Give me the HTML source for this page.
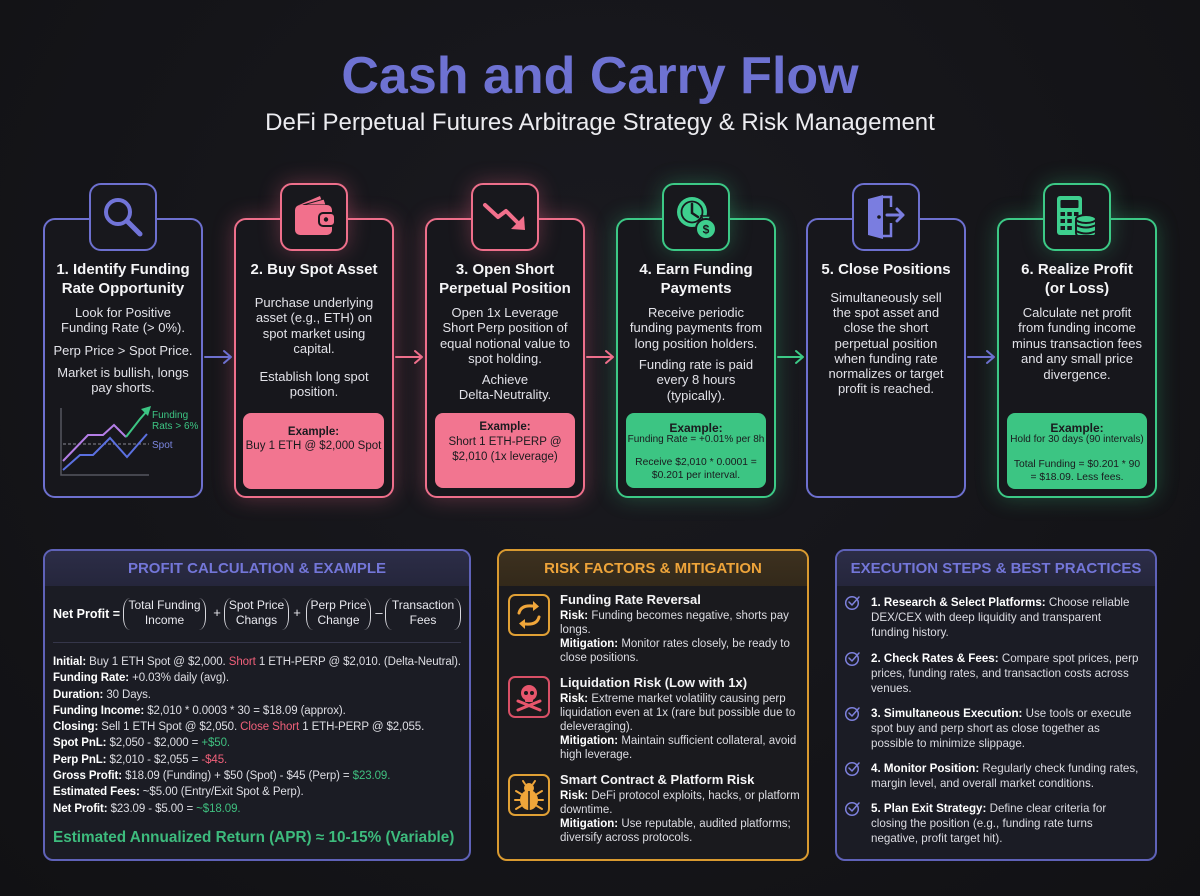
<!DOCTYPE html>
<html><head><meta charset="utf-8">
<style>
*{margin:0;padding:0;box-sizing:border-box}
html,body{width:1200px;height:896px;overflow:hidden}
body{font-family:"Liberation Sans",Arial,sans-serif;color:#e4e4ea;position:relative;
background:radial-gradient(ellipse at 50% 35%,#1a1a20 0%,#151519 55%,#111114 100%)}
.a{position:absolute;white-space:nowrap}
.c{text-align:center}
.card{position:absolute;top:218px;width:160px;height:280px;border:2px solid;border-radius:12px;background:#17171c}
.ib{position:absolute;top:183px;width:68px;height:68px;border:2px solid;border-radius:12px;background:#18181d}
.ib svg{position:absolute;left:-2px;top:-2px}
.pu{border-color:#6d70cf}
.pk{border-color:#ee6f8b;box-shadow:0 0 22px rgba(238,100,135,.33)}
.gr{border-color:#3cc986;box-shadow:0 0 22px rgba(60,201,134,.30)}
.tt{font-weight:bold;font-size:15px;line-height:19px;color:#f5f5f7;width:160px;text-align:center}
.bd{font-size:13px;line-height:15.4px;color:#e2e2e8;width:160px;text-align:center}
.ex{position:absolute;border-radius:8px;color:#1a1a1e;text-align:center}
.ex .a{left:0;right:0;text-align:center}
.expk{background:#f27590}
.exgr{background:#3cc583}
.pn{position:absolute;top:549px;height:312px;border:2px solid;border-radius:10px;overflow:hidden}
.hd{position:absolute;left:0;top:0;right:0;height:35px;line-height:35px;text-align:center;font-weight:bold;font-size:15px}
.grp{position:absolute;top:598px;height:32px}
.grp .tx{position:absolute;left:-12px;right:-12px;top:0;text-align:center;font-size:12px;line-height:15px;color:#e8e8ee;white-space:nowrap}
.pl{position:absolute;left:0;top:0;width:7px;height:32px;border-left:1.5px solid #d8d8de;border-radius:9px 0 0 9px/16px 0 0 16px}
.pr{position:absolute;right:0;top:0;width:7px;height:32px;border-right:1.5px solid #d8d8de;border-radius:0 9px 9px 0/0 16px 16px 0}
.ln{font-size:11.5px;line-height:16.3px;letter-spacing:-0.1px;color:#dedee4}
.ln b{color:#fff}
.r{color:#f0607a}
.g{color:#3fbf7f}
.rk{font-size:11.5px;line-height:14px;color:#dcdce2}
.rk b{color:#fff}
.rt{font-weight:bold;font-size:13px;line-height:16px;color:#f4f4f6}
.rb{position:absolute;left:508px;width:42px;height:42px;border:2px solid;border-radius:7px;background:#1b1a1c}
.rb svg{position:absolute;left:-2px;top:-2px}
.xs{font-size:11.6px;line-height:15px;color:#dcdce2}
.xs b{color:#fff}
</style></head>
<body>

<!-- Title -->
<div class="a c" style="left:0;width:1200px;top:46px;font-size:52px;line-height:60px;font-weight:bold;color:#6e72d2">Cash and Carry Flow</div>
<div class="a c" style="left:0;width:1200px;top:109px;font-size:24px;line-height:28px;color:#ececf0">DeFi Perpetual Futures Arbitrage Strategy &amp; Risk Management</div>

<!-- Cards -->
<div class="card pu" style="left:43px"></div>
<div class="card pk" style="left:234px"></div>
<div class="card pk" style="left:425px"></div>
<div class="card gr" style="left:616px"></div>
<div class="card pu" style="left:806px"></div>
<div class="card gr" style="left:997px"></div>

<!-- Icon boxes -->
<div class="ib pu" style="left:89px"><svg width="68" height="68"><circle cx="29" cy="29" r="12" fill="none" stroke="#7174d8" stroke-width="4"/><line x1="38" y1="38" x2="51" y2="51" stroke="#7174d8" stroke-width="5" stroke-linecap="round"/></svg></div>
<div class="ib pk" style="left:280px"><svg width="68" height="68"><path d="M19 22 L40 13 L43 21 Z" fill="#f2708c"/><path d="M23 22 L44 16 L46 22 Z" fill="#f2708c" stroke="#18181d" stroke-width="1"/><rect x="15" y="22" width="37" height="30" rx="5" fill="#f2708c"/><rect x="39" y="30" width="16" height="13" rx="4" fill="#f2708c" stroke="#18181d" stroke-width="2"/><circle cx="46" cy="36.5" r="2.2" fill="#18181d"/></svg></div>
<div class="ib pk" style="left:471px"><svg width="68" height="68"><path d="M14 22 L27 34 L35 28 L47 40" fill="none" stroke="#f2708c" stroke-width="4" stroke-linejoin="round" stroke-linecap="round"/><path d="M54 47 L40 46 L53 33 Z" fill="#f2708c"/></svg></div>
<div class="ib gr" style="left:662px"><svg width="68" height="68"><circle cx="30" cy="29" r="15" fill="#3ecf8e"/><circle cx="30" cy="29" r="10.5" fill="none" stroke="#18181d" stroke-width="1.8"/><path d="M30 21 L30 30 L36 34" fill="none" stroke="#18181d" stroke-width="2.5" stroke-linecap="round"/><path d="M39 33 L49 33 L46 38 L42 38 Z" fill="#3ecf8e" stroke="#18181d" stroke-width="1.5"/><circle cx="44" cy="46" r="10" fill="#3ecf8e" stroke="#18181d" stroke-width="2"/><text x="44" y="50.5" text-anchor="middle" font-family="Liberation Sans,sans-serif" font-weight="bold" font-size="12" fill="#18181d">$</text></svg></div>
<div class="ib pu" style="left:852px"><svg width="68" height="68"><path d="M31 14 L39 14 L39 24 M39 40 L39 53 L31 53" fill="none" stroke="#7a7de0" stroke-width="2.5"/><path d="M16 16 L31 12 L31 56 L16 52 Z" fill="#7a7de0"/><circle cx="27" cy="34" r="1.8" fill="#18181d"/><path d="M35 32 L51 32 M45 26 L51 32 L45 38" fill="none" stroke="#7a7de0" stroke-width="3" stroke-linecap="round" stroke-linejoin="round"/></svg></div>
<div class="ib gr" style="left:1043px"><svg width="68" height="68"><rect x="14" y="13" width="25" height="39" rx="3" fill="#3ecf8e"/><rect x="17.5" y="17" width="18" height="8" rx="1" fill="#18181d"/><g fill="#18181d"><rect x="17.5" y="29" width="4.5" height="4"/><rect x="24.3" y="29" width="4.5" height="4"/><rect x="31" y="29" width="4.5" height="4"/><rect x="17.5" y="36" width="4.5" height="4"/><rect x="24.3" y="36" width="4.5" height="4"/><rect x="17.5" y="43" width="4.5" height="4"/><rect x="24.3" y="43" width="4.5" height="4"/></g><rect x="33" y="35" width="20" height="18" rx="3" fill="#3ecf8e" stroke="#18181d" stroke-width="2"/><ellipse cx="43" cy="36" rx="10" ry="4" fill="#3ecf8e" stroke="#18181d" stroke-width="2"/><path d="M33 42 Q43 47 53 42 M33 48 Q43 53 53 48" fill="none" stroke="#18181d" stroke-width="2"/></svg></div>

<!-- Card texts -->
<div class="a tt" style="left:43px;top:260px">1. Identify Funding<br>Rate Opportunity</div>
<div class="a bd" style="left:43px;top:305px">Look for Positive<br>Funding Rate (&gt; 0%).</div>
<div class="a bd" style="left:43px;top:343px">Perp Price &gt; Spot Price.</div>
<div class="a bd" style="left:43px;top:365px">Market is bullish, longs<br>pay shorts.</div>

<div class="a tt" style="left:234px;top:260px">2. Buy Spot Asset</div>
<div class="a bd" style="left:234px;top:295px">Purchase underlying<br>asset (e.g., ETH) on<br>spot market using<br>capital.</div>
<div class="a bd" style="left:234px;top:369px">Establish long spot<br>position.</div>
<div class="ex expk" style="left:243px;top:413px;width:141px;height:76px"><div class="a" style="top:12px;font-size:11.5px;line-height:14px"><b>Example:</b><br>Buy 1 ETH @ $2,000 Spot</div></div>

<div class="a tt" style="left:425px;top:260px">3. Open Short<br>Perpetual Position</div>
<div class="a bd" style="left:425px;top:305px">Open 1x Leverage<br>Short Perp position of<br>equal notional value to<br>spot holding.</div>
<div class="a bd" style="left:425px;top:372px">Achieve<br>Delta-Neutrality.</div>
<div class="ex expk" style="left:435px;top:413px;width:140px;height:75px"><div class="a" style="top:7px;font-size:11.5px;line-height:15px"><b>Example:</b><br>Short 1 ETH-PERP @<br>$2,010 (1x leverage)</div></div>

<div class="a tt" style="left:616px;top:260px">4. Earn Funding<br>Payments</div>
<div class="a bd" style="left:616px;top:305px">Receive periodic<br>funding payments from<br>long position holders.</div>
<div class="a bd" style="left:616px;top:357px">Funding rate is paid<br>every 8 hours<br>(typically).</div>
<div class="ex exgr" style="left:626px;top:413px;width:140px;height:75px">
<div class="a" style="top:8px;font-size:12px;line-height:14px;font-weight:bold">Example:</div>
<div class="a" style="top:21px;font-size:10px;line-height:12px">Funding Rate = +0.01% per 8h</div>
<div class="a" style="top:43px;font-size:10.3px;line-height:13px">Receive $2,010 * 0.0001 =<br>$0.201 per interval.</div>
</div>

<div class="a tt" style="left:806px;top:260px">5. Close Positions</div>
<div class="a bd" style="left:806px;top:290px;line-height:15.2px">Simultaneously sell<br>the spot asset and<br>close the short<br>perpetual position<br>when funding rate<br>normalizes or target<br>profit is reached.</div>

<div class="a tt" style="left:997px;top:260px">6. Realize Profit<br>(or Loss)</div>
<div class="a bd" style="left:997px;top:305px">Calculate net profit<br>from funding income<br>minus transaction fees<br>and any small price<br>divergence.</div>
<div class="ex exgr" style="left:1007px;top:413px;width:140px;height:76px">
<div class="a" style="top:8px;font-size:12px;line-height:14px;font-weight:bold">Example:</div>
<div class="a" style="top:21px;font-size:10px;line-height:12px">Hold for 30 days (90 intervals)</div>
<div class="a" style="top:45px;font-size:10.3px;line-height:13px">Total Funding = $0.201 * 90<br>= $18.09. Less fees.</div>
</div>

<!-- Panels -->
<div class="pn" style="left:43px;width:428px;border-color:#5f62b8;background:#1b1c24"><div class="hd" style="background:linear-gradient(#2c2d47,#25263c);color:#7376d8">PROFIT CALCULATION &amp; EXAMPLE</div></div>
<div class="pn" style="left:497px;width:312px;border-color:#d99a30;background:#1a1a1e"><div class="hd" style="background:linear-gradient(#3d311f,#33291a);color:#eea43a">RISK FACTORS &amp; MITIGATION</div></div>
<div class="pn" style="left:835px;width:322px;border-color:#5f62b8;background:#1b1c25"><div class="hd" style="background:linear-gradient(#2c2d47,#25263c);color:#7376d8">EXECUTION STEPS &amp; BEST PRACTICES</div></div>

<!-- Panel 1 content -->
<div class="a" style="left:53px;top:606px;font-size:12.5px;line-height:16px;font-weight:bold;color:#fff">Net Profit =</div>
<div class="grp" style="left:123px;width:83px"><span class="pl"></span><span class="pr"></span><div class="tx">Total Funding<br>Income</div></div>
<div class="a" style="left:212px;top:605px;font-size:13px;line-height:16px;color:#e8e8ee;width:10px;text-align:center">+</div>
<div class="grp" style="left:224px;width:65px"><span class="pl"></span><span class="pr"></span><div class="tx">Spot Price<br>Changs</div></div>
<div class="a" style="left:292px;top:605px;font-size:13px;line-height:16px;color:#e8e8ee;width:10px;text-align:center">+</div>
<div class="grp" style="left:306px;width:65px"><span class="pl"></span><span class="pr"></span><div class="tx">Perp Price<br>Change</div></div>
<div class="a" style="left:374px;top:605px;font-size:13px;line-height:16px;color:#e8e8ee;width:10px;text-align:center">–</div>
<div class="grp" style="left:385px;width:76px"><span class="pl"></span><span class="pr"></span><div class="tx">Transaction<br>Fees</div></div>
<div class="a" style="left:53px;top:642px;width:408px;height:1px;background:#35364a"></div>
<div class="a ln" style="left:53px;top:654px"><b>Initial:</b> Buy 1 ETH Spot @ $2,000. <span class="r">Short</span> 1 ETH-PERP @ $2,010. (Delta-Neutral).<br>
<b>Funding Rate:</b> +0.03% daily (avg).<br>
<b>Duration:</b> 30 Days.<br>
<b>Funding Income:</b> $2,010 * 0.0003 * 30 = $18.09 (approx).<br>
<b>Closing:</b> Sell 1 ETH Spot @ $2,050. <span class="r">Close Short</span> 1 ETH-PERP @ $2,055.<br>
<b>Spot PnL:</b> $2,050 - $2,000 = <span class="g">+$50.</span><br>
<b>Perp PnL:</b> $2,010 - $2,055 = <span class="r">-$45.</span><br>
<b>Gross Profit:</b> $18.09 (Funding) + $50 (Spot) - $45 (Perp) = <span class="g">$23.09.</span><br>
<b>Estimated Fees:</b> ~$5.00 (Entry/Exit Spot &amp; Perp).<br>
<b>Net Profit:</b> $23.09 - $5.00 = <span class="g">~$18.09.</span></div>
<div class="a" style="left:53px;top:828px;font-size:15.3px;line-height:20px;font-weight:bold;color:#3dbb7d">Estimated Annualized Return (APR) ≈ 10-15% (Variable)</div>

<!-- Panel 2 content -->
<div class="rb" style="top:594px;border-color:#e0a035"><svg width="42" height="42"><path d="M11 19 Q13 11 24 12 L27 12" fill="none" stroke="#f0a63a" stroke-width="3" stroke-linecap="round"/><path d="M25 7 L31 12.5 L25 17 Z" fill="#f0a63a"/><path d="M31 23 Q29 31 18 30 L15 30" fill="none" stroke="#f0a63a" stroke-width="3" stroke-linecap="round"/><path d="M17 25 L11 29.5 L17 35 Z" fill="#f0a63a"/></svg></div>
<div class="rb" style="top:676px;border-color:#d85066"><svg width="42" height="42"><g stroke="#e8566c" stroke-width="3" stroke-linecap="round"><line x1="10" y1="25" x2="32" y2="34"/><line x1="32" y1="25" x2="10" y2="34"/></g><circle cx="21" cy="17" r="8" fill="#e8566c"/><rect x="17" y="20" width="8" height="6" rx="1" fill="#e8566c"/><circle cx="18" cy="17" r="2" fill="#1b1a1c"/><circle cx="24" cy="17" r="2" fill="#1b1a1c"/></svg></div>
<div class="rb" style="top:774px;border-color:#e0a035"><svg width="42" height="42"><g stroke="#f0a63a" stroke-width="2" stroke-linecap="round"><line x1="17" y1="10" x2="15" y2="7"/><line x1="25" y1="10" x2="27" y2="7"/><line x1="13" y1="20" x2="8" y2="17"/><line x1="29" y1="20" x2="34" y2="17"/><line x1="12" y1="26" x2="7" y2="26"/><line x1="30" y1="26" x2="35" y2="26"/><line x1="13" y1="32" x2="8" y2="35"/><line x1="29" y1="32" x2="34" y2="35"/></g><circle cx="21" cy="14" r="5" fill="#f0a63a"/><ellipse cx="21" cy="26" rx="9" ry="10" fill="#f0a63a"/><line x1="21" y1="17" x2="21" y2="36" stroke="#1b1a1c" stroke-width="1.5"/></svg></div>

<div class="a rt" style="left:560px;top:592px">Funding Rate Reversal</div>
<div class="a rk" style="left:560px;top:609px"><b>Risk:</b> Funding becomes negative, shorts pay<br>longs.<br><b>Mitigation:</b> Monitor rates closely, be ready to<br>close positions.</div>
<div class="a rt" style="left:560px;top:675px">Liquidation Risk (Low with 1x)</div>
<div class="a rk" style="left:560px;top:692px"><b>Risk:</b> Extreme market volatility causing perp<br>liquidation even at 1x (rare but possible due to<br>deleveraging).<br><b>Mitigation:</b> Maintain sufficient collateral, avoid<br>high leverage.</div>
<div class="a rt" style="left:560px;top:772px">Smart Contract &amp; Platform Risk</div>
<div class="a rk" style="left:560px;top:789px"><b>Risk:</b> DeFi protocol exploits, hacks, or platform<br>downtime.<br><b>Mitigation:</b> Use reputable, audited platforms;<br>diversify across protocols.</div>

<!-- Panel 3 content -->
<div class="a xs" style="left:871px;top:594.5px"><b>1. Research &amp; Select Platforms:</b> Choose reliable<br>DEX/CEX with deep liquidity and transparent<br>funding history.</div>
<div class="a xs" style="left:871px;top:650.5px"><b>2. Check Rates &amp; Fees:</b> Compare spot prices, perp<br>prices, funding rates, and transaction costs across<br>venues.</div>
<div class="a xs" style="left:871px;top:705.5px"><b>3. Simultaneous Execution:</b> Use tools or execute<br>spot buy and perp short as close together as<br>possible to minimize slippage.</div>
<div class="a xs" style="left:871px;top:760.5px"><b>4. Monitor Position:</b> Regularly check funding rates,<br>margin level, and overall market conditions.</div>
<div class="a xs" style="left:871px;top:800.5px"><b>5. Plan Exit Strategy:</b> Define clear criteria for<br>closing the position (e.g., funding rate turns<br>negative, profit target hit).</div>

<!-- Overlay: arrows, chart, checks -->
<svg class="a" style="left:0;top:0" width="1200" height="896">
<g fill="none" stroke-width="2" stroke-linecap="round" stroke-linejoin="round">
<path d="M205 357 L231 357 M224 351 L231 357 L224 363" stroke="#6d70cf"/>
<path d="M396 357 L422 357 M415 351 L422 357 L415 363" stroke="#ee6f8b"/>
<path d="M587 357 L613 357 M606 351 L613 357 L606 363" stroke="#ee6f8b"/>
<path d="M778 357 L803 357 M796 351 L803 357 L796 363" stroke="#3cc986"/>
<path d="M968 357 L994 357 M987 351 L994 357 L987 363" stroke="#6d70cf"/>
</g>
<path d="M61 408 L61 475 L149 475" fill="none" stroke="#55565f" stroke-width="1.5"/>
<line x1="63" y1="444" x2="149" y2="444" stroke="#8a8a95" stroke-width="1" stroke-dasharray="3,2"/>
<polyline points="63,461 88,435 103,435 114,425 126,437" fill="none" stroke="#b47ee6" stroke-width="2"/>
<polyline points="126,437 140,419 147,411" fill="none" stroke="#3cc583" stroke-width="2"/>
<path d="M151 406 L141 409 L148 416 Z" fill="#3cc583"/>
<polyline points="63,470 80,455 93,455 110,438 127,457 147,434" fill="none" stroke="#5b70e0" stroke-width="2"/>
<text x="152" y="418" font-family="Liberation Sans,sans-serif" font-size="10" fill="#3cc583">Funding</text>
<text x="152" y="429" font-family="Liberation Sans,sans-serif" font-size="10" fill="#3cc583">Rats &gt; 6%</text>
<text x="152" y="448" font-family="Liberation Sans,sans-serif" font-size="10" fill="#7b86e0">Spot</text>
<g fill="none" stroke="#7d80dc" stroke-width="1.5" stroke-linecap="round" stroke-linejoin="round">
<circle cx="852" cy="603" r="6.3"/><path d="M849 602 L852 605 L859 597"/>
<circle cx="852" cy="659" r="6.3"/><path d="M849 658 L852 661 L859 653"/>
<circle cx="852" cy="714" r="6.3"/><path d="M849 713 L852 716 L859 708"/>
<circle cx="852" cy="769" r="6.3"/><path d="M849 768 L852 771 L859 763"/>
<circle cx="852" cy="809" r="6.3"/><path d="M849 808 L852 811 L859 803"/>
</g>
</svg>
</body></html>
